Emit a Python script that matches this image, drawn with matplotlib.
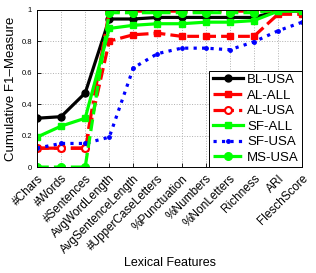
import matplotlib.pyplot as plt

plt.rcParams['font.family'] = ['Liberation Sans', 'DejaVu Sans']

features = ['#Chars', '#Words', '#Sentences', 'AvgWordLength', 'AvgSentenceLength',
            '#UpperCaseLetters', '%Punctuation', '%Numbers', '%NonLetters',
            'Richness', 'ARI', 'FleschScore']

bl_usa = [0.31, 0.32, 0.47, 0.94, 0.94, 0.95, 0.95, 0.95, 0.95, 0.95, 0.99, 0.99]
al_all = [0.12, 0.12, 0.12, 0.80, 0.84, 0.85, 0.83, 0.83, 0.83, 0.83, 0.97, 0.97]
al_usa = [0.12, 0.12, 0.12, 0.99, 0.99, 0.99, 0.99, 0.99, 0.99, 0.99, 0.99, 0.99]
sf_all = [0.19, 0.26, 0.31, 0.88, 0.90, 0.91, 0.91, 0.92, 0.92, 0.93, 0.99, 0.99]
sf_usa = [0.12, 0.15, 0.15, 0.19, 0.63, 0.72, 0.755, 0.755, 0.745, 0.795, 0.865, 0.92]
ms_usa = [0.00, 0.00, 0.00, 0.98, 0.98, 0.98, 0.98, 0.98, 0.98, 0.98, 1.00, 1.00]

x = list(range(1, len(features) + 1))

fig = plt.figure(figsize=(3.16, 2.73), dpi=100)
ax = fig.add_axes([0.117, 0.388, 0.839, 0.577])

lw = 2.3
ax.plot(x, bl_usa, '-', color='black', lw=lw, marker='o', ms=5, label='BL-USA')
ax.plot(x, al_all, '--', color='red', lw=lw, marker='s', ms=5, label='AL-ALL')
ax.plot(x, al_usa, '-.', color='red', lw=lw, marker='o', ms=5, mfc='white', mew=1.5, label='AL-USA')
ax.plot(x, sf_all, '-', color='#00ff00', lw=lw, marker='s', ms=4.5, label='SF-ALL')
ax.plot(x, sf_usa, ':', color='blue', lw=lw, marker='.', ms=5, label='SF-USA')
ax.plot(x, ms_usa, '--', color='#00ff00', lw=lw, marker='o', ms=5.5, label='MS-USA')

ax.set_xlim(1, 12)
ax.set_ylim(0, 1)
ax.set_xticks(x)
ax.set_xticklabels(features, rotation=45, ha='right', rotation_mode='anchor', fontsize=8.5)
ax.set_yticks([0, 0.2, 0.4, 0.6, 0.8, 1])
ax.set_yticklabels(['0', '0.2', '0.4', '0.6', '0.8', '1'], fontsize=5.5)
ax.tick_params(direction='in', length=3, width=0.6)
ax.tick_params(axis='x', pad=4)
ax.grid(True, linestyle=':', color='#b0b0b0', linewidth=0.7)
for s in ax.spines.values():
    s.set_linewidth(0.7)

ax.set_ylabel('Cumulative F1\u2013Measure', fontsize=9.5, labelpad=3)
ax.set_xlabel('Lexical Features', fontsize=9, labelpad=1)

leg = ax.legend(loc='lower right', fontsize=9.5, borderaxespad=0, fancybox=False,
                edgecolor='black', framealpha=1, handlelength=2.3, labelspacing=0.25,
                handletextpad=0.3, borderpad=0.25)
leg.get_frame().set_linewidth(0.7)

fig.savefig('out.png', dpi=100)
